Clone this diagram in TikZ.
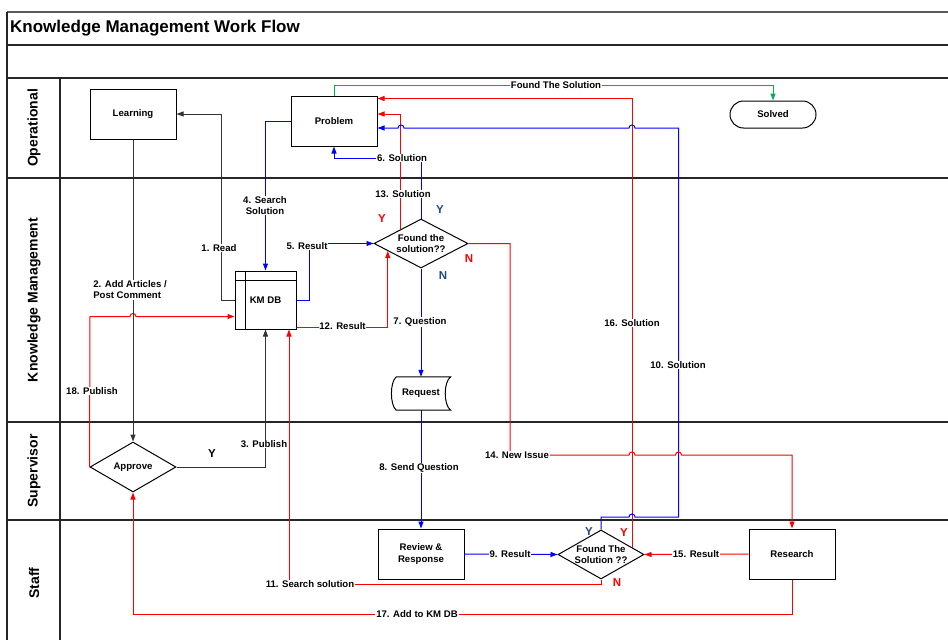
\documentclass[tikz,border=0pt]{standalone}
\usepackage{fontspec}
\setmainfont{Liberation Sans}
\usetikzlibrary{arrows.meta,shapes.geometric,calc}
\definecolor{navy}{RGB}{31,73,125}
\definecolor{grn}{RGB}{0,176,80}
\begin{document}
\begin{tikzpicture}[x=1pt,y=-1pt,
  lane/.style={line width=1.3pt, draw=black!85},
  lbl/.style={font=\fontsize{9.6}{11}\selectfont\bfseries, fill=white, inner sep=0.8pt, align=center},
  box/.style={draw, line width=1pt, fill=white, minimum width=86pt, minimum height=50pt, inner sep=0, font=\fontsize{9.6}{11.5}\selectfont\bfseries, align=center},
  dia/.style={draw, diamond, line width=1pt, fill=white, inner sep=0, minimum width=86pt, minimum height=50pt},
  txt/.style={font=\fontsize{9.6}{11.5}\selectfont\bfseries, align=center, inner sep=0},
  yn/.style={font=\fontsize{11.5}{13}\selectfont\bfseries, inner sep=0},
  lanetxt/.style={font=\fontsize{14}{16}\selectfont\bfseries, rotate=90, inner sep=0},
  con/.style={line width=1pt, -{Triangle[length=7pt,width=5pt]}},
  blk/.style={con, draw=black!80},
  bl/.style={con, draw=blue},
  rd/.style={con, draw=red},
  gn/.style={con, draw=grn}
]
\useasboundingbox (0,0) rectangle (948,640);
% frame
\draw[lane, draw=black!65] (7,12) -- (948,12);
\draw[lane] (7,45) -- (948,45);
\draw[lane] (7,78) -- (948,78);
\draw[lane] (7,178) -- (948,178);
\draw[lane] (7,422) -- (948,422);
\draw[lane] (7,520) -- (948,520);
\draw[lane] (7,12) -- (7,640);
\draw[lane] (60,78) -- (60,640);
\node[font=\fontsize{17}{20}\selectfont\bfseries, anchor=west, inner sep=0] (title) at (10,28) {Knowledge Management Work Flow};
\node[lanetxt] (lop) at (34,128) {Operational};
\node[lanetxt] (lkm) at (34,300) {Knowledge Management};
\node[lanetxt] (lsu) at (34,471) {Supervisor};
\node[lanetxt] (lst) at (34,583) {Staff};

% nodes
\node[box] (learn) at (133,114) {Learning};
\node[box] (prob) at (334,121) {Problem};
\node[box, minimum height=27pt, rounded corners=13.5pt] (solved) at (773,114.5) {Solved};
\node[dia, minimum width=94pt, minimum height=49pt] (dk) at (421,243.5) {};
\node[box, minimum width=61pt, minimum height=58pt] (kmdb) at (265.5,300) {};
\node[inner sep=0, minimum width=59pt, minimum height=33pt] (req) at (421,393.5) {};
\node[dia] (appr) at (133,467) {};
\node[box] (rev) at (421,554) {Review \&\\Response};
\node[dia, minimum height=49pt] (ds) at (601,554.5) {};
\node[box] (res) at (792,554) {Research};

% connectors
\draw[gn] (prob.north) -- (334,85.5) -| (solved.north);
\draw[rd] ($(ds.north)!0.72!(ds.east)$) |- ([yshift=-3pt]prob.north east);
\draw[rd] ($(dk.west)!0.565!(dk.north)$) |- ([yshift=7pt]prob.east);
\draw[bl] (ds.north) -- (601,517) -- (629,517) .. controls (629,513) and (635,513) .. (635,517) -- (678.5,517) -- (678.5,128) -- (635,128) .. controls (635,124) and (629,124) .. (629,128) -- (404,128) .. controls (404,124) and (398,124) .. (398,128) -- ([yshift=-7pt]prob.east);
\draw[rd] (dk.east) -- (510,243.5) -- (510,455) -- (629,455) .. controls (629,451) and (635,451) .. (635,455) -- (675.5,455) .. controls (675.5,451) and (681.5,451) .. (681.5,455) -| (res.north);
\draw[rd] (ds.south) -- (601,584.5) -| ([xshift=23.5pt]kmdb.south);
\draw[rd] ([yshift=2.5pt]kmdb.south east) -| ($(dk.west)!0.3!(dk.south)$);
\draw[rd] (res.south) -- (792,614) -| (appr.south);
\draw[rd] (appr.west) -- (90,316.5) -- (130,316.5) .. controls (130,312.5) and (136,312.5) .. (136,316.5) -- ([yshift=-16.5pt]kmdb.west);
\draw[rd] (res.west) -- (ds.east);
\draw[blk] (kmdb.west) -- (221,300) |- (learn.east);
\draw[blk] (learn.south) -- (appr.north);
\draw[blk] (appr.east) -| (kmdb.south);
\draw[bl] (prob.west) -| (kmdb.north);
\draw[bl] (kmdb.east) -- (309,300) |- (dk.west);
\draw[bl] (dk.north) -- (421,158) -| (prob.south);
\draw[bl] (dk.south) -- (req.north);
\draw[bl] (req.south) -- (rev.north);
\draw[bl] (rev.east) -- (ds.west);

% shapes drawn over connector ends
\draw[line width=1pt, fill=white] ([xshift=5pt]req.north west) -- (req.north east)
  .. controls ([xshift=-7.3pt,yshift=-5pt]req.north east) and ([xshift=-7.3pt,yshift=5pt]req.south east) .. (req.south east)
  -- ([xshift=5pt]req.south west)
  .. controls ([xshift=-1.5pt,yshift=5pt]req.south west) and ([xshift=-1.5pt,yshift=-5pt]req.north west) .. ([xshift=5pt]req.north west) -- cycle;
\draw[line width=1pt] ([xshift=10.5pt]kmdb.north west) -- ([xshift=10.5pt]kmdb.south west);
\draw[line width=1pt] ([yshift=-10pt]kmdb.north west) -- ([yshift=-10pt]kmdb.north east);

% node texts
\node[txt] (dkt) at (dk) {Found the\\solution??};
\node[txt] (kmt) at (kmdb) {KM DB};
\node[txt] (reqt) at (req) {Request};
\node[txt] (apprt) at (appr) {Approve};
\node[txt] (dst) at (ds) {Found The\\Solution ??};

% labels
\node[lbl] (l0) at (556,85.5) {Found The Solution};
\node[lbl] (l1) at (219,248) {1. Read};
\node[lbl, align=left] (l2) at (130,290) {2. Add Articles /\\Post Comment};
\node[lbl] (l3) at (264,444) {3. Publish};
\node[lbl] (l4) at (265,205.5) {4. Search\\Solution};
\node[lbl] (l5) at (307,246) {5. Result};
\node[lbl] (l6) at (402,158) {6. Solution};
\node[lbl] (l7) at (420,322) {7. Question};
\node[lbl] (l8) at (419,468) {8. Send Question};
\node[lbl] (l9) at (510,554) {9. Result};
\node[lbl] (l10) at (678,365) {10. Solution};
\node[lbl] (l11) at (310,584.5) {11. Search solution};
\node[lbl] (l12) at (342.5,326) {12. Result};
\node[lbl] (l13) at (403,194) {13. Solution};
\node[lbl] (l14) at (517,455) {14. New Issue};
\node[lbl] (l15) at (696,554) {15. Result};
\node[lbl] (l16) at (632,323) {16. Solution};
\node[lbl] (l17) at (417,614) {17. Add to KM DB};
\node[lbl] (l18) at (92,391) {18. Publish};

\node[yn, text=red] (y1) at (382,219) {Y};
\node[yn, text=navy] (y2) at (440,210) {Y};
\node[yn, text=red] (n1) at (469,259) {N};
\node[yn, text=navy] (n2) at (443,276) {N};
\node[yn, text=black] (y3) at (212,454) {Y};
\node[yn, text=navy] (y4) at (589,532) {Y};
\node[yn, text=red] (y5) at (624,533) {Y};
\node[yn, text=red] (n3) at (617,583) {N};
\end{tikzpicture}
\end{document}
